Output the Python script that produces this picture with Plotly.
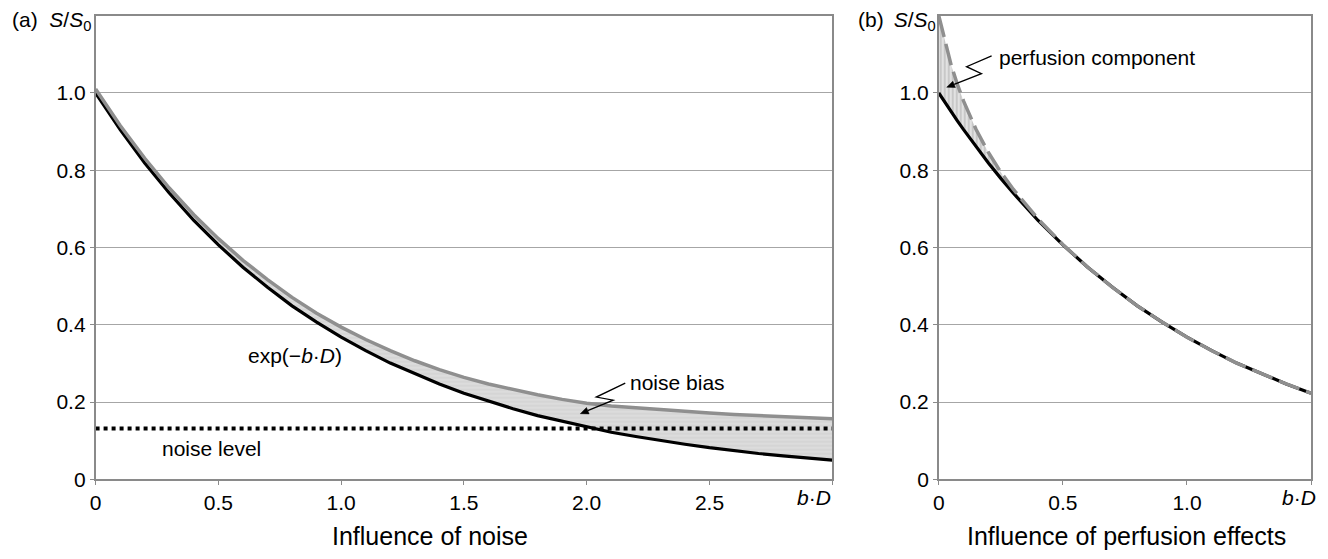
import plotly.graph_objects as go

# ---------------- data ----------------
# Panel (a): influence of noise
bd_a = [0.0, 0.1, 0.2, 0.3, 0.4, 0.5, 0.6, 0.7, 0.8, 0.9, 1.0,
        1.1, 1.2, 1.3, 1.4, 1.5, 1.6, 1.7, 1.8, 1.9, 2.0,
        2.1, 2.2, 2.3, 2.4, 2.5, 2.6, 2.7, 2.8, 2.9, 3.0]
true_a = [1.000, 0.905, 0.819, 0.741, 0.670, 0.607, 0.549, 0.497, 0.449, 0.407, 0.368,
          0.333, 0.301, 0.273, 0.247, 0.223, 0.202, 0.183, 0.165, 0.150, 0.135,
          0.122, 0.111, 0.100, 0.091, 0.082, 0.074, 0.067, 0.061, 0.055, 0.050]
noisy_a = [1.010, 0.916, 0.831, 0.754, 0.685, 0.623, 0.567, 0.517, 0.471, 0.430, 0.394,
           0.362, 0.333, 0.307, 0.284, 0.264, 0.247, 0.232, 0.219, 0.207, 0.197,
           0.190, 0.185, 0.180, 0.176, 0.172, 0.168, 0.165, 0.162, 0.159, 0.157]
noise_level = 0.132

# Panel (b): influence of perfusion effects
bd_b = [0.0, 0.025, 0.05, 0.075, 0.1, 0.15, 0.2, 0.25, 0.3, 0.4, 0.5,
        0.6, 0.7, 0.8, 0.9, 1.0, 1.1, 1.2, 1.3, 1.4, 1.5]
true_b = [1.000, 0.975, 0.951, 0.928, 0.905, 0.861, 0.819, 0.779, 0.741, 0.670, 0.607,
          0.549, 0.497, 0.449, 0.407, 0.368, 0.333, 0.301, 0.273, 0.247, 0.223]
perf_b = [1.200, 1.131, 1.072, 1.022, 0.979, 0.906, 0.846, 0.795, 0.751, 0.674, 0.608,
          0.549, 0.497, 0.449, 0.407, 0.368, 0.333, 0.301, 0.273, 0.247, 0.223]

xt_a = [0, 0.5, 1.0, 1.5, 2.0, 2.5, 3.0]
xl_a = ["0", "0.5", "1.0", "1.5", "2.0", "2.5", ""]
xt_b = [0, 0.5, 1.0, 1.5]
xl_b = ["0", "0.5", "1.0", ""]
yt = [0, 0.2, 0.4, 0.6, 0.8, 1.0]
yl = ["0", "0.2", "0.4", "0.6", "0.8", "1.0"]
bd_label = "<i>b</i>·<i>D</i>"

# ---------------- figure ----------------
W, H = 1328, 559


def px(x):
    return x / W


def py(y):
    return 1 - y / H


FONT = "Arial, Liberation Sans, sans-serif"
GRID = "#a6a6a6"
AX = "#8a8a8a"
GREY = "#8f8f8f"

fig = go.Figure()

# panel (a)
fig.add_trace(go.Scatter(x=bd_a, y=true_a, mode="lines",
                         line=dict(color="black", width=3.2), xaxis="x", yaxis="y",
                         showlegend=False, hoverinfo="skip"))
fig.add_trace(go.Scatter(x=bd_a, y=noisy_a, mode="lines",
                         line=dict(color=GREY, width=3.5), xaxis="x", yaxis="y",
                         fill="tonexty", fillcolor="#dedede",
                         fillpattern=dict(shape="-", bgcolor="#dcdcdc", fgcolor="#c4c4c4",
                                          size=4, solidity=0.3),
                         showlegend=False, hoverinfo="skip"))
fig.add_trace(go.Scatter(x=[bd_a[0], bd_a[-1]], y=[noise_level, noise_level], mode="lines",
                         line=dict(color="black", width=4, dash="4px,4px"),
                         xaxis="x", yaxis="y", showlegend=False, hoverinfo="skip"))

# panel (b)
fig.add_trace(go.Scatter(x=bd_b, y=true_b, mode="lines",
                         line=dict(color="black", width=3.2), xaxis="x2", yaxis="y2",
                         showlegend=False, hoverinfo="skip"))
fig.add_trace(go.Scatter(x=bd_b, y=perf_b, mode="lines",
                         line=dict(color=GREY, width=3.5, dash="22px,7px"),
                         xaxis="x2", yaxis="y2",
                         fill="tonexty", fillcolor="#d8d8d8",
                         fillpattern=dict(shape="|", bgcolor="#e2e2e2", fgcolor="#9a9a9a",
                                          size=4, solidity=0.35),
                         showlegend=False, hoverinfo="skip"))

ydom = [py(489), py(16)]
axis_common = dict(showline=True, linecolor=AX, linewidth=1.5, mirror=True,
                   ticks="outside", ticklen=4, tickcolor=AX, tickwidth=1.2,
                   zeroline=False, tickfont=dict(size=21, color="black", family=FONT))

fig.update_layout(
    width=W, height=H, autosize=False,
    margin=dict(l=0, r=0, t=0, b=0),
    paper_bgcolor="white", plot_bgcolor="white",
    font=dict(family=FONT, color="black", size=21),
    xaxis=dict(domain=[px(90), px(830)], range=[0, 3.0], tickvals=xt_a, ticktext=xl_a,
               showgrid=False, anchor="y", **axis_common),
    yaxis=dict(domain=ydom, range=[0, 1.2], tickvals=yt, ticktext=yl,
               showgrid=True, gridcolor=GRID, gridwidth=1, anchor="x", **axis_common),
    xaxis2=dict(domain=[px(937), px(1311)], range=[0, 1.5], tickvals=xt_b, ticktext=xl_b,
                showgrid=False, anchor="y2", **axis_common),
    yaxis2=dict(domain=ydom, range=[0, 1.2], tickvals=yt, ticktext=yl,
                showgrid=True, gridcolor=GRID, gridwidth=1, anchor="x2", **axis_common),
)

ann = []
# axis titles
ann.append(dict(text="Influence of noise", xref="paper", yref="paper",
                x=px(426), y=py(547), xanchor="center", yanchor="middle",
                showarrow=False, font=dict(size=25)))
ann.append(dict(text="Influence of perfusion effects", xref="paper", yref="paper",
                x=px(1126), y=py(547), xanchor="center", yanchor="middle",
                showarrow=False, font=dict(size=25)))
# b·D end-of-axis labels
ann.append(dict(text=bd_label, xref="x", yref="paper", x=bd_a[-1], y=py(507),
                xanchor="center", yanchor="middle", xshift=-18,
                showarrow=False, font=dict(size=21)))
ann.append(dict(text=bd_label, xref="x2", yref="paper", x=bd_b[-1], y=py(507),
                xanchor="center", yanchor="middle", xshift=-12,
                showarrow=False, font=dict(size=21)))
# panel labels
ann.append(dict(text="(a)  <i>S</i>/<i>S</i><sub>0</sub>", xref="paper", yref="paper",
                x=px(87), y=py(21), xanchor="right", yanchor="middle",
                showarrow=False, font=dict(size=21)))
ann.append(dict(text="(b) \u2009<i>S</i>/<i>S</i><sub>0</sub>", xref="paper", yref="paper",
                x=px(936), y=py(21), xanchor="right", yanchor="middle",
                showarrow=False, font=dict(size=21)))
# curve labels
ann.append(dict(text="exp(−<i>b</i>·<i>D</i>)", xref="x", yref="y", x=0.811, y=0.320,
                xanchor="center", yanchor="middle", showarrow=False, font=dict(size=21)))
ann.append(dict(text="noise bias", xref="x", yref="y", x=2.371, y=0.251,
                xanchor="center", yanchor="middle", showarrow=False, font=dict(size=21)))
ann.append(dict(text="noise level", xref="x", yref="y", x=0.474, y=0.081,
                xanchor="center", yanchor="middle", showarrow=False, font=dict(size=21)))
ann.append(dict(text="perfusion component", xref="x2", yref="y2", x=0.233, y=1.093,
                xanchor="left", yanchor="middle", showarrow=False, font=dict(size=21)))
fig.update_layout(annotations=ann)

# zig-zag leader lines with arrow heads
fig.add_shape(type="path", xref="x", yref="y",
              path="M 2.157,0.249 L 2.039,0.213 L 2.108,0.205 L 2.004,0.178",
              line=dict(color="black", width=1.3))
fig.add_shape(type="path", xref="x", yref="y",
              path="M 1.974,0.170 L 2.010,0.1695 L 1.999,0.186 Z",
              line=dict(color="black", width=0.5), fillcolor="black")
fig.add_shape(type="path", xref="x2", yref="y2",
              path="M 0.213,1.096 L 0.112,1.068 L 0.172,1.050 L 0.062,1.022",
              line=dict(color="black", width=1.3))
fig.add_shape(type="path", xref="x2", yref="y2",
              path="M 0.032,1.015 L 0.067,1.014 L 0.0566,1.0305 Z",
              line=dict(color="black", width=0.5), fillcolor="black")

post = (
    "document.documentElement.style.margin='0';"
    "document.body.style.margin='0';"
    "document.body.style.overflow='hidden';"
    "document.documentElement.style.overflow='hidden';"
    "var gd=document.getElementById('{plot_id}');"
    "Plotly.relayout(gd,{width:window.innerWidth,height:window.innerHeight});"
)
fig.write_html("out.html", config={"displayModeBar": False}, post_script=post)
